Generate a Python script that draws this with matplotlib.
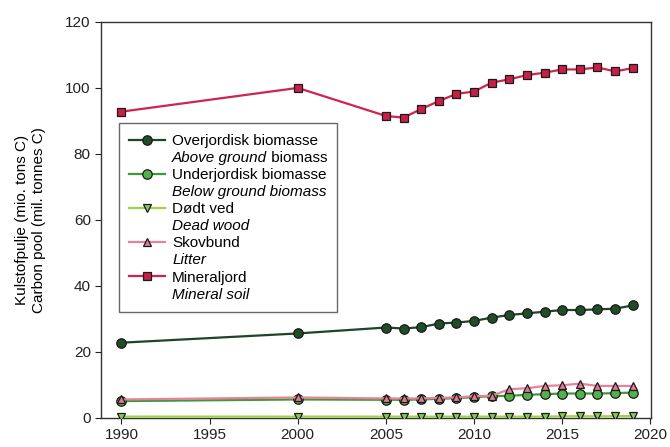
import matplotlib.pyplot as plt
from matplotlib.lines import Line2D

plt.rcParams['font.family'] = ['Liberation Sans', 'DejaVu Sans']

years_early = [1990, 2000]
years_late = list(range(2005, 2020))
years = years_early + years_late

above_ground = [22.8, 25.6, 27.4, 27.1, 27.5, 28.6, 28.9, 29.4, 30.4, 31.2,
                31.7, 32.2, 32.7, 32.7, 32.9, 33.1, 34.1]
below_ground = [5.1, 5.6, 5.5, 5.5, 5.6, 5.8, 6.0, 6.3, 6.6, 6.7,
                7.0, 7.2, 7.4, 7.4, 7.4, 7.5, 7.7]
dead_wood = [0.4, 0.4, 0.4, 0.4, 0.4, 0.4, 0.4, 0.4, 0.4, 0.4,
             0.4, 0.4, 0.5, 0.5, 0.5, 0.5, 0.6]
litter = [5.6, 6.2, 5.9, 5.9, 5.9, 6.1, 6.2, 6.6, 6.7, 8.7,
          9.0, 9.7, 9.9, 10.4, 9.7, 9.7, 9.7]
mineral_soil = [92.8, 100.0, 91.5, 91.0, 93.6, 96.0, 98.2, 98.9, 101.6, 102.6,
                103.9, 104.6, 105.6, 105.6, 106.2, 105.0, 106.0]

series = [
    # (values, line colour, marker, face colour, danish label, english label)
    (above_ground, '#1d4526', 'o', '#1f4d28', 'Overjordisk biomasse',
     'Above ground'),
    (below_ground, '#3c9a3a', 'o', '#55b04a', 'Underjordisk biomasse',
     'Below ground biomass'),
    (dead_wood, '#9fd14a', 'v', '#86c85a', 'Dødt ved', 'Dead wood'),
    (litter, '#e8819a', '^', '#e07a94', 'Skovbund', 'Litter'),
    (mineral_soil, '#d0244c', 's', '#c81e48', 'Mineraljord', 'Mineral soil'),
]

fig = plt.figure(figsize=(6.7, 4.47), dpi=100)
ax = fig.add_axes([0.151, 0.065, 0.821, 0.886])

handles = []
labels = []
blank = Line2D([], [], linestyle='none', marker='none')
for vals, lc, mk, fc, lab1, lab2 in series:
    ms = 6.8 if mk == 'o' else 6.2
    h, = ax.plot(years, vals, color=lc, lw=1.6, marker=mk, markersize=ms,
                 markerfacecolor=fc, markeredgecolor='#1a1a1a',
                 markeredgewidth=0.9, zorder=3)
    handles += [h, blank]
    labels += [lab1, lab2]

ax.set_xlim(1988.85, 2020.05)
ax.set_ylim(0, 120)
ax.set_xticks(range(1990, 2021, 5))
ax.set_yticks(range(0, 121, 20))
ax.tick_params(direction='out', length=4, width=0.8, labelsize=11,
               colors='#222222')
for s in ax.spines.values():
    s.set_linewidth(1.0)
    s.set_color('#333333')

ax.set_ylabel('Kulstofpulje (mio. tons C)\nCarbon pool (mil. tonnes C)',
              fontsize=11, labelpad=14, linespacing=1.3)

leg = ax.legend(handles, labels, loc='upper left',
                bbox_to_anchor=(0.018, 0.763), fontsize=11, frameon=True,
                fancybox=False, edgecolor='#444444', handlelength=2.3,
                handletextpad=0.5, labelspacing=0.2, borderpad=0.7)
leg.get_frame().set_linewidth(1.0)

# english names in italics, second row of each entry
texts = leg.get_texts()
for t in texts[1::2]:
    t.set_fontstyle('italic')

# "biomass" after the italic "Above ground" stays upright
fig.add_artist(plt.Annotation(' biomass', xy=(1, 0), xycoords=texts[1],
                              va='bottom', ha='left', fontsize=11))

fig.savefig('out.png', dpi=100)
